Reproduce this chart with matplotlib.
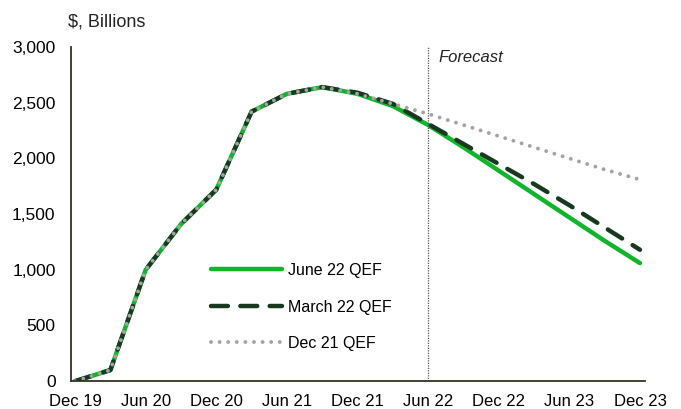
import matplotlib.pyplot as plt
import numpy as np

plt.rcParams['font.family'] = ['Liberation Sans', 'DejaVu Sans']

# quarters Dec 19 .. Dec 23
quarters = ["Dec 19", "Mar 20", "Jun 20", "Sep 20", "Dec 20", "Mar 21", "Jun 21",
            "Sep 21", "Dec 21", "Mar 22", "Jun 22", "Sep 22", "Dec 22", "Mar 23",
            "Jun 23", "Sep 23", "Dec 23"]
tick_labels = quarters[::2]

june22 = [0, 100, 1000, 1410, 1720, 2420, 2580, 2640, 2580, 2470, 2300,
          2100, 1890, 1680, 1470, 1260, 1060]
march22 = [0, 100, 1000, 1410, 1720, 2420, 2580, 2640, 2590, 2490, 2310,
           2130, 1950, 1770, 1580, 1380, 1180]
dec21 = [0, 100, 1000, 1410, 1720, 2420, 2580, 2640, 2580, 2490, 2400,
         2300, 2200, 2100, 2000, 1900, 1810]

x = np.arange(len(quarters))

fig = plt.figure(figsize=(6.81, 4.09), dpi=100)
ax = fig.add_axes([0.104, 0.068, 0.843, 0.817])

ax.plot(x, june22, color='#11B52C', lw=3.2, solid_capstyle='round', label='June 22 QEF')
ax.plot(x, march22, color='#17391F', lw=3.2, dashes=(3.8, 2.8), dash_capstyle='round',
        label='March 22 QEF')
ax.plot(x, dec21, color='#A3A3A3', lw=2.8, dashes=(0.01, 2.2), dash_capstyle='round',
        label='Dec 21 QEF')

ax.axvline(10, color='#555555', lw=0.9, ls=(0, (1, 1)), ymax=1.0)
ax.text(10.3, 2870, 'Forecast', style='italic', fontsize=12, color='#222222')

ax.set_xlim(-0.12, 16.14)
ax.set_ylim(0, 3000)
ax.set_xticks(x[::2])
ax.set_xticklabels(tick_labels, fontsize=12)
ax.set_yticks(np.arange(0, 3001, 500))
ax.set_yticklabels([f"{v:,}" for v in range(0, 3001, 500)], fontsize=12.5)
ax.tick_params(axis='y', length=0, pad=11)
ax.tick_params(axis='x', length=0, pad=9)

for s in ['top', 'right']:
    ax.spines[s].set_visible(False)
for s in ['left', 'bottom']:
    ax.spines[s].set_color('#333322')
    ax.spines[s].set_linewidth(1.3)

fig.text(0.1, 0.935, '$, Billions', fontsize=13, color='#222222')

ax.legend(loc='center left', bbox_to_anchor=(0.245, 0.222), frameon=False, fontsize=11.5,
          handlelength=4.4, labelspacing=1.35, handletextpad=0.4,
          borderaxespad=0, borderpad=0)

fig.savefig('out.png', dpi=100)
